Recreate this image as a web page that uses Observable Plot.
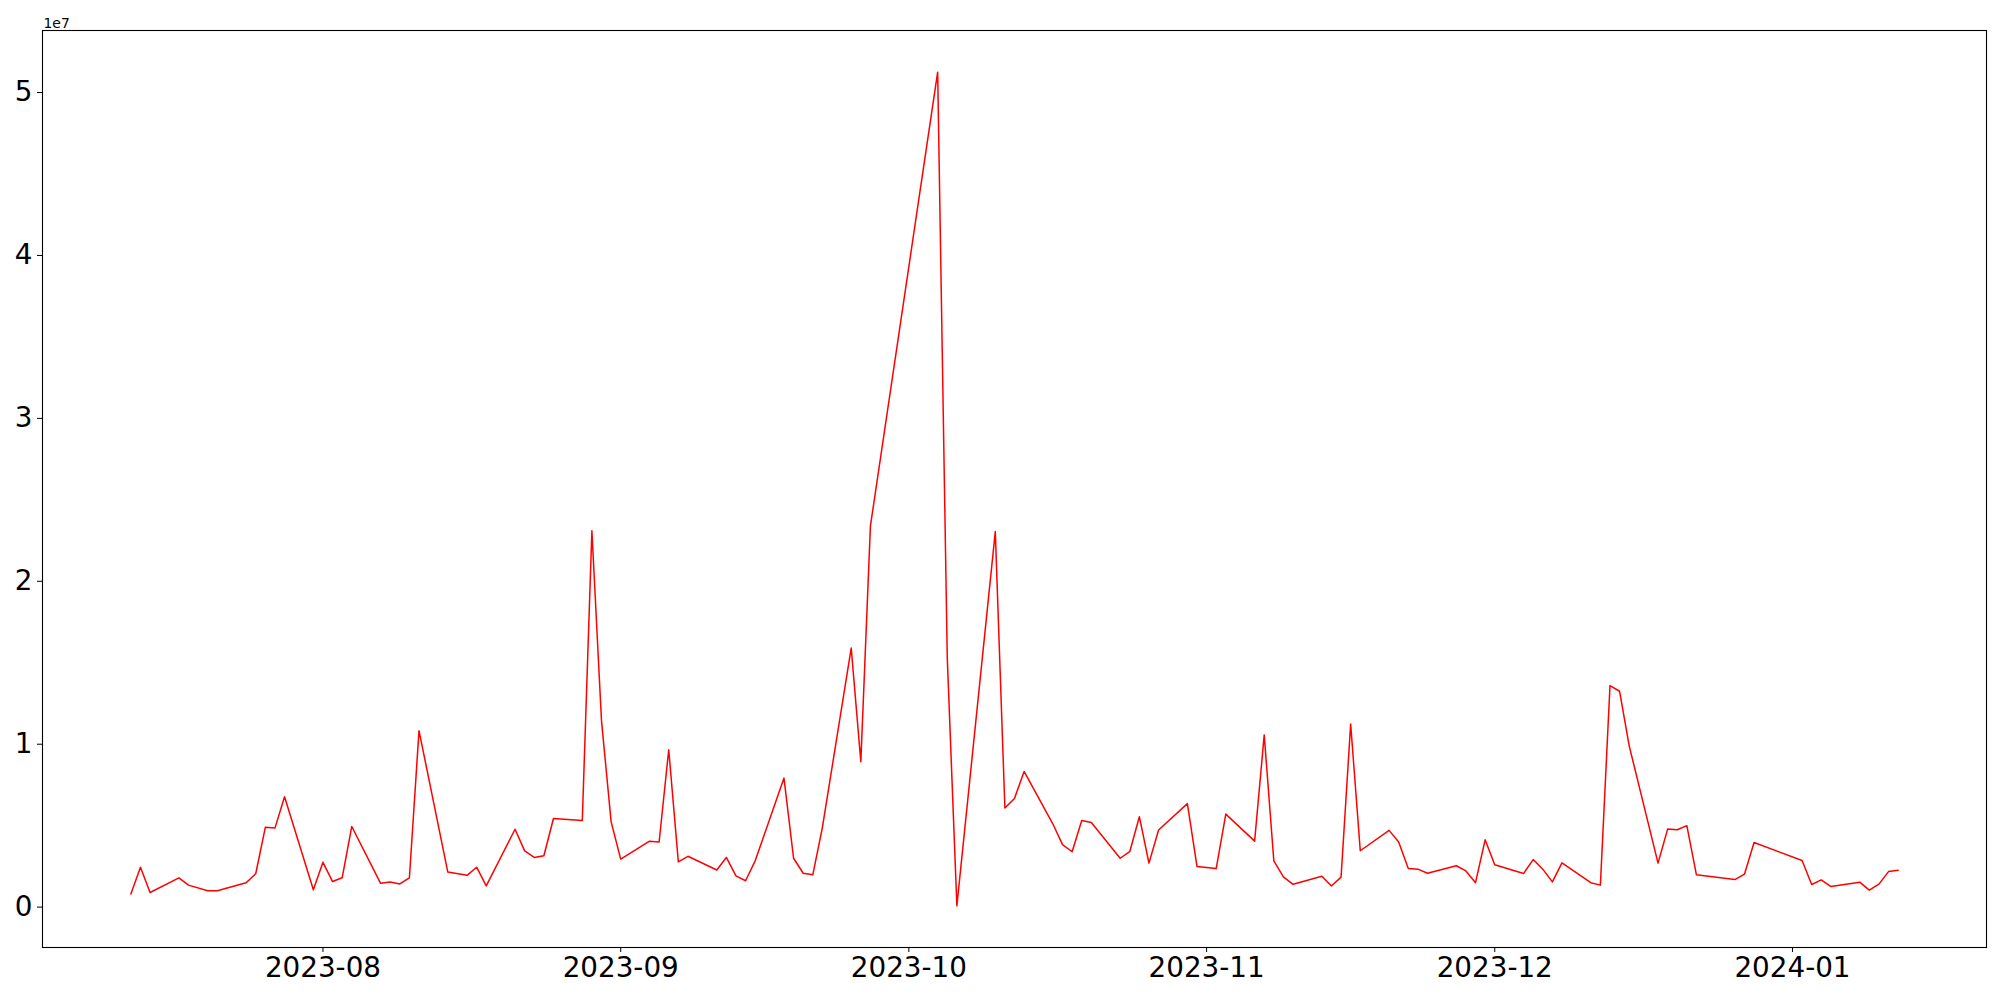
<!DOCTYPE html>
<html>
<head>
<meta charset="utf-8">
<script src="https://cdn.jsdelivr.net/npm/d3@7"></script>
<script src="https://cdn.jsdelivr.net/npm/@observablehq/plot@0.6"></script>
<style>
  html, body { margin: 0; padding: 0; background: #fff; }
  #chart svg { display: block; }
</style>
</head>
<body>
<div id="chart"></div>
<script>
// Trading dates (weekdays) and daily values
const dates = [
  "2023-07-12","2023-07-13","2023-07-14","2023-07-17","2023-07-18","2023-07-20","2023-07-21",
  "2023-07-24","2023-07-25","2023-07-26","2023-07-27","2023-07-28",
  "2023-07-31","2023-08-01","2023-08-02","2023-08-03","2023-08-04",
  "2023-08-07","2023-08-08","2023-08-09","2023-08-10","2023-08-11",
  "2023-08-14","2023-08-16","2023-08-17","2023-08-18",
  "2023-08-21","2023-08-22","2023-08-23","2023-08-24","2023-08-25",
  "2023-08-28","2023-08-29","2023-08-30","2023-08-31","2023-09-01",
  "2023-09-04","2023-09-05","2023-09-06","2023-09-07","2023-09-08",
  "2023-09-11","2023-09-12","2023-09-13","2023-09-14","2023-09-15",
  "2023-09-18","2023-09-19","2023-09-20","2023-09-21","2023-09-22",
  "2023-09-25","2023-09-26","2023-09-27",
  "2023-10-04","2023-10-05","2023-10-06",
  "2023-10-10","2023-10-11","2023-10-12","2023-10-13",
  "2023-10-16","2023-10-17","2023-10-18","2023-10-19","2023-10-20",
  "2023-10-23","2023-10-24","2023-10-25","2023-10-26","2023-10-27",
  "2023-10-30","2023-10-31","2023-11-02","2023-11-03",
  "2023-11-06","2023-11-07","2023-11-08","2023-11-09","2023-11-10",
  "2023-11-13","2023-11-14","2023-11-15","2023-11-16","2023-11-17",
  "2023-11-20","2023-11-21","2023-11-22","2023-11-23","2023-11-24",
  "2023-11-27","2023-11-28","2023-11-29","2023-11-30","2023-12-01",
  "2023-12-04","2023-12-05","2023-12-06","2023-12-07","2023-12-08",
  "2023-12-11","2023-12-12","2023-12-13","2023-12-14","2023-12-15",
  "2023-12-18","2023-12-19","2023-12-20","2023-12-21","2023-12-22",
  "2023-12-26","2023-12-27","2023-12-28",
  "2024-01-02","2024-01-03","2024-01-04","2024-01-05",
  "2024-01-08","2024-01-09","2024-01-10","2024-01-11","2024-01-12"
];

const values = [
  800000, 2450000, 900000, 1800000, 1350000, 1000000, 1000000,
  1500000, 2050000, 4900000, 4850000, 6780000,
  1070000, 2750000, 1570000, 1800000, 4950000,
  1460000, 1540000, 1420000, 1800000, 10830000,
  2150000, 1950000, 2450000, 1300000,
  4780000, 3450000, 3050000, 3150000, 5440000,
  5320000, 23100000, 11450000, 5250000, 2950000,
  4050000, 4000000, 9660000, 2780000, 3120000,
  2280000, 3050000, 1920000, 1620000, 2840000,
  7920000, 3000000, 2080000, 1980000, 4900000,
  15900000, 8930000, 23400000,
  51250000, 15300000, 80000,
  23050000, 6080000, 6670000, 8330000,
  5100000, 3840000, 3400000, 5320000, 5200000,
  3000000, 3400000, 5550000, 2700000, 4730000,
  6350000, 2500000, 2370000, 5710000,
  4050000, 10570000, 2840000, 1860000, 1400000,
  1900000, 1300000, 1840000, 11240000, 3460000,
  4710000, 4000000, 2370000, 2330000, 2080000,
  2540000, 2220000, 1500000, 4130000, 2600000,
  2060000, 2920000, 2330000, 1550000, 2720000,
  1500000, 1350000, 13600000, 13250000, 9900000,
  2700000, 4790000, 4750000, 5000000, 1980000,
  1690000, 2020000, 3970000,
  2860000, 1390000, 1670000, 1260000,
  1530000, 1040000, 1410000, 2180000, 2270000
];

const xTicks = ["2023-08-01","2023-09-01","2023-10-01","2023-11-01","2023-12-01","2024-01-01"];
const yTicks = [0, 1e7, 2e7, 3e7, 4e7, 5e7];
const offsetLabel = "1e7";

const parse = d3.utcParse("%Y-%m-%d");
const rows = dates.map((d, i) => ({date: parse(d), value: values[i]}));

// matplotlib-like 5% margins
const [x0, x1] = d3.extent(rows, d => d.date);
const xPad = (x1 - x0) * 0.05;
const [y0, y1] = d3.extent(rows, d => d.value);
const yPad = (y1 - y0) * 0.05;

const chart = Plot.plot({
  width: 2000,
  height: 1000,
  marginLeft: 42,
  marginTop: 30,
  marginRight: 14,
  marginBottom: 53,
  style: {fontFamily: "'DejaVu Sans', sans-serif", fontSize: "27.8px", color: "black", background: "white"},
  x: {type: "utc", domain: [new Date(+x0 - xPad), new Date(+x1 + xPad)]},
  y: {domain: [y0 - yPad, y1 + yPad]},
  marks: [
    Plot.lineY(rows, {x: "date", y: "value", stroke: "#ff0000", strokeWidth: 1.5}),
    Plot.frame({stroke: "black", strokeWidth: 1.1}),
    Plot.axisX({
      ticks: xTicks.map(parse),
      tickFormat: d3.utcFormat("%Y-%m"),
      tickSize: 5, tickPadding: 5, label: null, fontSize: 27.8
    }),
    Plot.axisY({
      ticks: yTicks,
      tickFormat: d => String(d / 1e7),
      tickSize: 5, tickPadding: 5, label: null, fontSize: 27.8
    }),
    Plot.text([offsetLabel], {
      text: d => d, frameAnchor: "top-left", textAnchor: "start", lineAnchor: "bottom",
      dx: 1, dy: -3, fontSize: 13.9
    })
  ]
});
document.getElementById("chart").appendChild(chart);
</script>
</body>
</html>
